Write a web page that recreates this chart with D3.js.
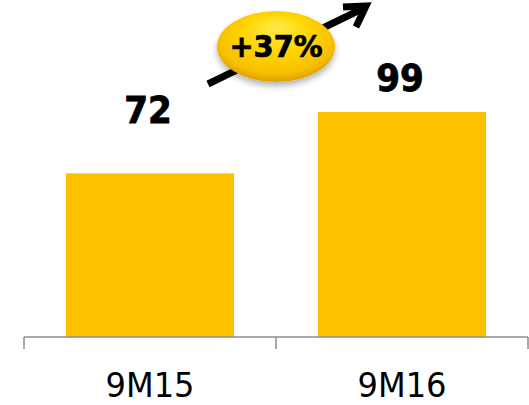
<!DOCTYPE html>
<html>
<head>
<meta charset="utf-8">
<script src="https://cdn.jsdelivr.net/npm/d3@7"></script>
<style>
  html, body { margin: 0; padding: 0; background: #fff; }
  svg { display: block; }
</style>
</head>
<body>
<svg id="chart" width="529" height="405"></svg>
<script>
// Periods and values
const categories = ["9M15", "9M16"];
const values = [72, 99];
const growthLabel = "+37%";

const W = 529, H = 405;
const svg = d3.select("#chart");
const FONT = "'DejaVu Sans', sans-serif";
const FONT_BOLD = "'DejaVu Sans Condensed', 'DejaVu Sans', sans-serif";

const x = d3.scaleBand()
  .domain(categories)
  .range([24, 528])
  .paddingInner(1 / 3)
  .paddingOuter(1 / 6);

const y = d3.scaleLinear()
  .domain([0, 110])
  .range([337, 87]);

const defs = svg.append("defs");

// Bars
svg.selectAll("rect.bar")
  .data(values)
  .join("rect")
  .attr("class", "bar")
  .attr("x", (d, i) => x(categories[i]))
  .attr("width", x.bandwidth())
  .attr("y", d => y(d))
  .attr("height", d => y(0) - y(d))
  .attr("fill", "#FFC000");

// Baseline with separator ticks at band edges
const axisY = y(0);
const step = x.step();
const edges = [0, 1, 2].map(i => 24 + i * step);
svg.append("line")
  .attr("x1", edges[0]).attr("x2", edges[2])
  .attr("y1", axisY).attr("y2", axisY)
  .attr("stroke", "#8c8c8c").attr("stroke-width", 1.5);
svg.selectAll("line.sep")
  .data(edges)
  .join("line")
  .attr("class", "sep")
  .attr("x1", d => d).attr("x2", d => d)
  .attr("y1", axisY).attr("y2", axisY + 12)
  .attr("stroke", "#8c8c8c").attr("stroke-width", 1.5);

// Category labels via a bottom axis
const axis = svg.append("g")
  .attr("transform", `translate(0,${axisY})`)
  .call(d3.axisBottom(x).tickSize(0).tickPadding(0));
axis.select(".domain").remove();
axis.selectAll("text")
  .attr("dy", null)
  .attr("y", 60)
  .attr("font-family", FONT)
  .attr("font-size", 34)
  .attr("fill", "#000")
  .attr("textLength", 89)
  .attr("lengthAdjust", "spacingAndGlyphs");

// Value labels above bars
const labelLift = [50, 21];
svg.selectAll("text.val")
  .data(values)
  .join("text")
  .attr("class", "val")
  .attr("x", (d, i) => x(categories[i]) + x.bandwidth() / 2 - 2)
  .attr("y", (d, i) => y(d) - labelLift[i])
  .attr("text-anchor", "middle")
  .attr("font-family", FONT_BOLD)
  .attr("font-weight", "bold")
  .attr("font-size", 38)
  .attr("fill", "#000")
  .attr("stroke", "#000")
  .attr("stroke-width", 0.8)
  .text(d => d);

// Growth arrow
const arrow = svg.append("g")
  .attr("stroke", "#000")
  .attr("stroke-width", 7)
  .attr("stroke-linecap", "butt")
  .attr("fill", "none");
arrow.append("line").attr("x1", 208).attr("y1", 84).attr("x2", 366).attr("y2", 7);
arrow.append("path")
  .attr("stroke-linejoin", "miter")
  .attr("d", "M343,7 L366,6 L356,27");

// Growth badge
const shadow = defs.append("filter").attr("id", "shadow")
  .attr("x", "-30%").attr("y", "-30%").attr("width", "160%").attr("height", "170%");
shadow.append("feGaussianBlur").attr("in", "SourceAlpha").attr("stdDeviation", 3).attr("result", "b");
shadow.append("feOffset").attr("in", "b").attr("dx", 0).attr("dy", 4).attr("result", "o");
shadow.append("feComponentTransfer").attr("in", "o").attr("result", "s")
  .append("feFuncA").attr("type", "linear").attr("slope", 0.3);
const merge = shadow.append("feMerge");
merge.append("feMergeNode").attr("in", "s");
merge.append("feMergeNode").attr("in", "SourceGraphic");

const grad = defs.append("radialGradient").attr("id", "badge")
  .attr("cx", "50%").attr("cy", "42%").attr("r", "58%")
  .attr("fx", "50%").attr("fy", "22%");
grad.append("stop").attr("offset", "0%").attr("stop-color", "#ffec4a");
grad.append("stop").attr("offset", "50%").attr("stop-color", "#ffd400");
grad.append("stop").attr("offset", "85%").attr("stop-color", "#f6bf00");
grad.append("stop").attr("offset", "100%").attr("stop-color", "#dc9e00");

svg.append("ellipse")
  .attr("cx", 276).attr("cy", 46.5)
  .attr("rx", 59).attr("ry", 35.5)
  .attr("fill", "url(#badge)")
  .attr("filter", "url(#shadow)");

svg.append("text")
  .attr("x", 276).attr("y", 57)
  .attr("text-anchor", "middle")
  .attr("font-family", FONT_BOLD)
  .attr("font-weight", "bold")
  .attr("font-size", 31)
  .attr("fill", "#000")
  .attr("stroke", "#000")
  .attr("stroke-width", 0.7)
  .attr("textLength", 93)
  .attr("lengthAdjust", "spacingAndGlyphs")
  .text(growthLabel);
</script>
</body>
</html>
